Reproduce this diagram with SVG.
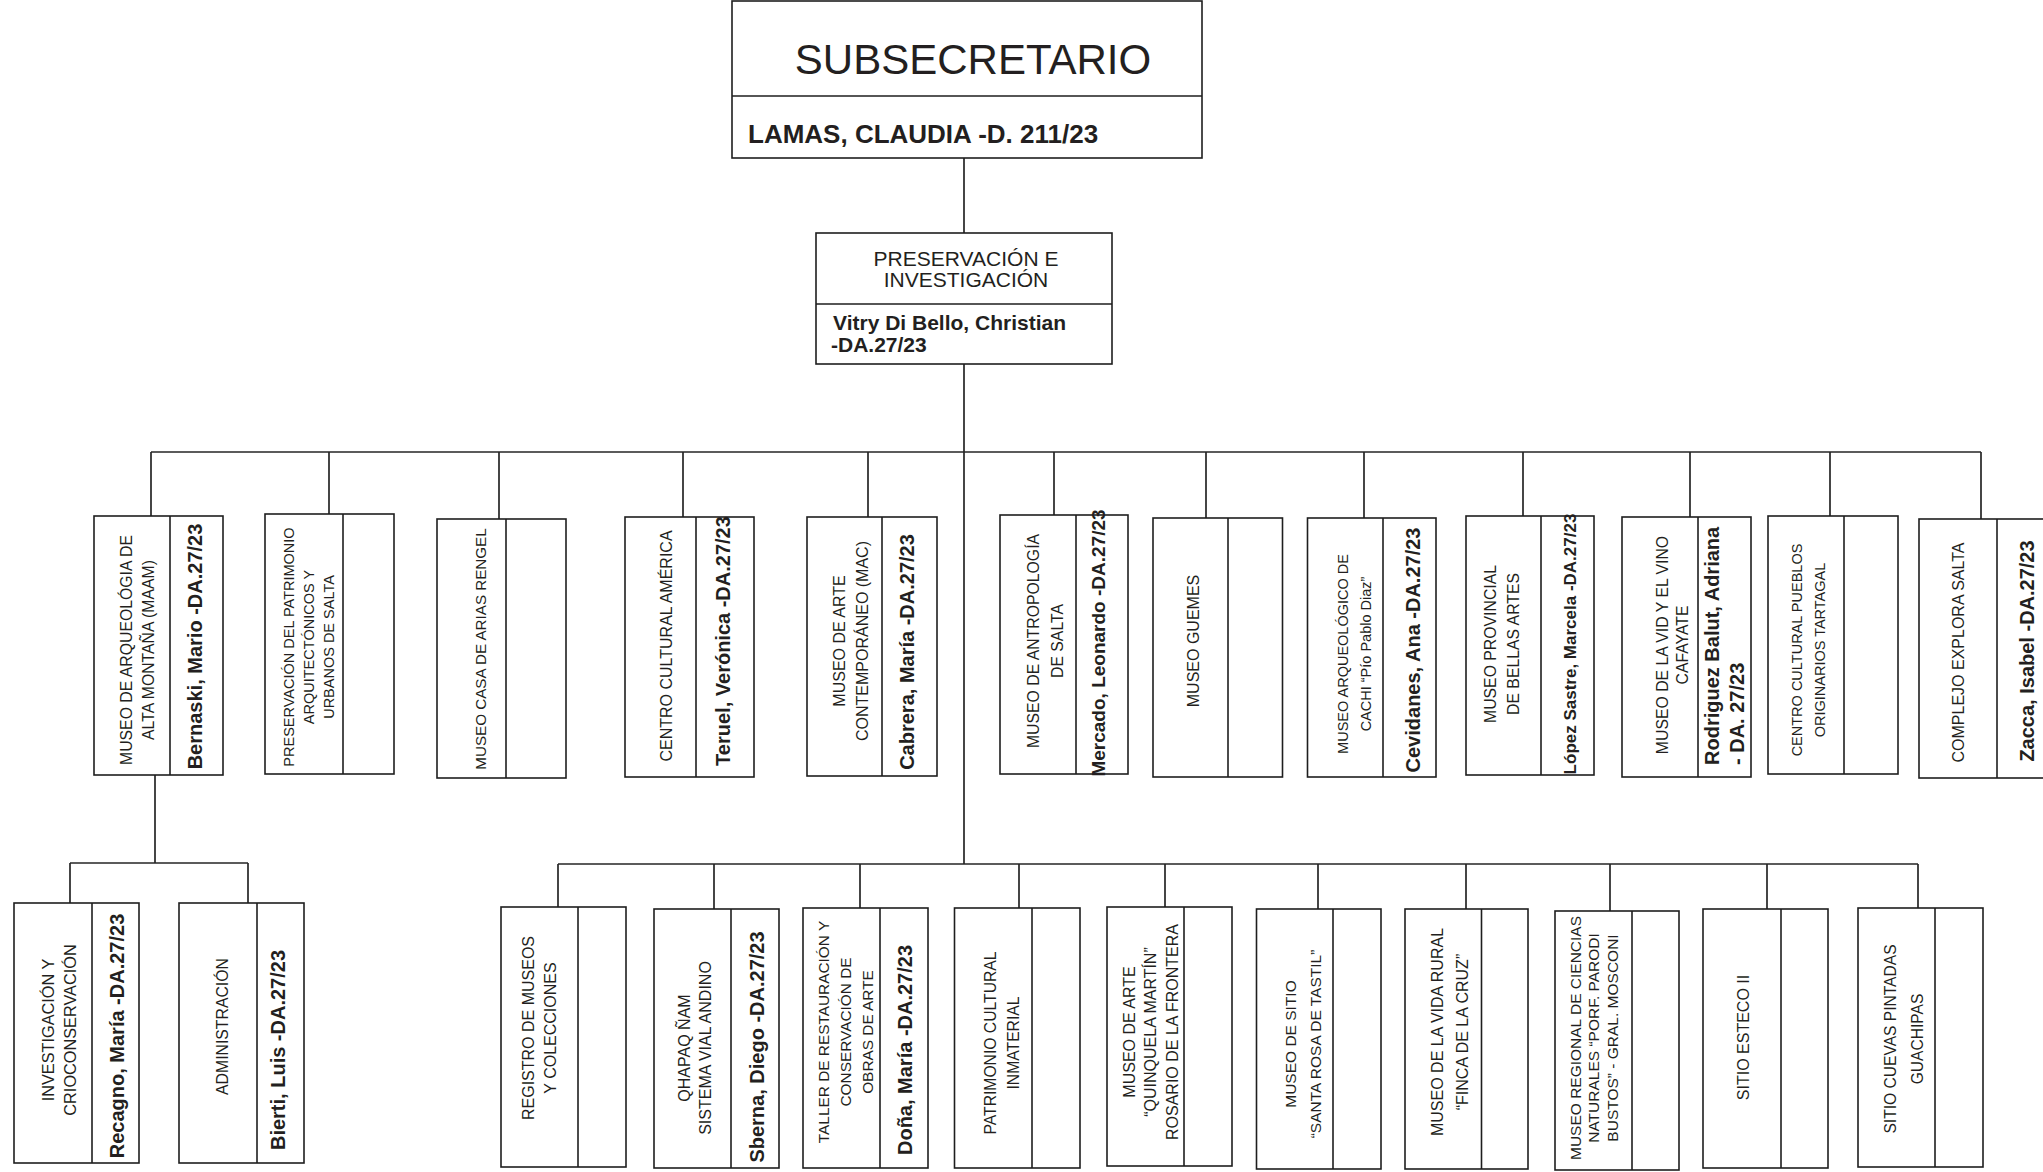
<svg xmlns="http://www.w3.org/2000/svg" width="2043" height="1172" viewBox="0 0 2043 1172">
<style>
.box{fill:#fff;stroke:#1e1e1e;stroke-width:1.6}
.dv{stroke:#1e1e1e;stroke-width:1.6}
.cn{stroke:#262626;stroke-width:1.7;fill:none}
text{font-family:"Liberation Sans",Arial,Helvetica,sans-serif;fill:#231f20}
.m{text-anchor:middle}
.b{font-weight:bold}
</style>
<rect width="2043" height="1172" fill="#fff"/>
<g id="connectors">
<path class="cn" d="M964 158V233M964 364V864M151 452H1981"/>
<path class="cn" d="M151 452V516M329 452V514M499 452V519M683 452V517M868 452V517M1054 452V515M1206 452V518M1364 452V518M1523 452V516M1690 452V517M1830 452V516M1981 452V519"/>
<path class="cn" d="M155 775V863M70 863H248M70 863V903M248 863V903"/>
<path class="cn" d="M558 864H1918M558 864V907M714 864V909M860 864V908M1019 864V908M1165 864V907M1318 864V909M1466 864V909M1610 864V911M1767 864V909M1918 864V908"/>
</g>
<g id="subsecretario">
<rect class="box" x="732" y="1" width="470" height="157"/>
<line class="dv" x1="732" y1="96" x2="1202" y2="96"/>
<text class="m" x="973" y="74" font-size="42">SUBSECRETARIO</text>
<text class="b" x="748" y="143" font-size="26">LAMAS, CLAUDIA -D. 211/23</text>
</g>
<g id="preservacion">
<rect class="box" x="816" y="233" width="296" height="131"/>
<line class="dv" x1="816" y1="304" x2="1112" y2="304"/>
<text class="m" font-size="21"><tspan x="966" y="266">PRESERVACIÓN E</tspan><tspan x="966" y="287">INVESTIGACIÓN</tspan></text>
<text class="b" font-size="21"><tspan x="833" y="330">Vitry Di Bello, Christian</tspan><tspan x="831" y="352">-DA.27/23</tspan></text>
</g>
<g id="maam">
<rect class="box" x="94" y="516" width="129" height="259"/>
<line class="dv" x1="170" y1="516" x2="170" y2="775"/>
<text class="m" font-size="15.8" transform="translate(131.7 650) rotate(-90)"><tspan x="0" y="0">MUSEO DE ARQUEOLÓGIA DE</tspan><tspan x="0" dy="22">ALTA MONTAÑA (MAAM)</tspan></text>
<text class="m b" font-size="20" transform="translate(202 646.5) rotate(-90)">Bernaski,  Mario -DA.27/23</text>
</g>
<g id="patrimonio-arq">
<rect class="box" x="265" y="514" width="129" height="260"/>
<line class="dv" x1="343" y1="514" x2="343" y2="774"/>
<text class="m" font-size="14.5" transform="translate(294.2 647) rotate(-90)"><tspan x="0" y="0">PRESERVACIÓN DEL PATRIMONIO</tspan><tspan x="0" dy="20">ARQUITECTÓNICOS Y</tspan><tspan x="0" dy="20">URBANOS DE  SALTA</tspan></text>
</g>
<g id="arias-rengel">
<rect class="box" x="437" y="519" width="129" height="259"/>
<line class="dv" x1="506" y1="519" x2="506" y2="778"/>
<text class="m" font-size="15.2" transform="translate(485.5 649) rotate(-90)">MUSEO CASA DE ARIAS RENGEL</text>
</g>
<g id="centro-america">
<rect class="box" x="625" y="517" width="129" height="260"/>
<line class="dv" x1="696" y1="517" x2="696" y2="777"/>
<text class="m" font-size="16" transform="translate(671.8 646) rotate(-90)">CENTRO CULTURAL AMÉRICA</text>
<text class="m b" font-size="20" transform="translate(730.2 641) rotate(-90)">Teruel, Verónica -DA.27/23</text>
</g>
<g id="mac">
<rect class="box" x="807" y="517" width="130" height="259"/>
<line class="dv" x1="882" y1="517" x2="882" y2="776"/>
<text class="m" font-size="16" transform="translate(844.8 641) rotate(-90)"><tspan x="0" y="0">MUSEO DE ARTE</tspan><tspan x="0" dy="23">CONTEMPORÁNEO (MAC)</tspan></text>
<text class="m b" font-size="20" transform="translate(914.2 652) rotate(-90)">Cabrera, María -DA.27/23</text>
</g>
<g id="antropologia">
<rect class="box" x="1000" y="515" width="128" height="259"/>
<line class="dv" x1="1076" y1="515" x2="1076" y2="774"/>
<text class="m" font-size="15.8" transform="translate(1038.7 641) rotate(-90)"><tspan x="0" y="0">MUSEO DE ANTROPOLOGÍA</tspan><tspan x="0" dy="24">DE SALTA</tspan></text>
<text class="m b" font-size="19" transform="translate(1105 643) rotate(-90)">Mercado, Leonardo -DA.27/23</text>
</g>
<g id="guemes">
<rect class="box" x="1153" y="518" width="129.5" height="259"/>
<line class="dv" x1="1228" y1="518" x2="1228" y2="777"/>
<text class="m" font-size="16" transform="translate(1198.8 641) rotate(-90)">MUSEO GUEMES</text>
</g>
<g id="cachi">
<rect class="box" x="1307.5" y="518" width="128.5" height="259"/>
<line class="dv" x1="1383" y1="518" x2="1383" y2="777"/>
<text class="m" font-size="14.5" transform="translate(1348.2 654) rotate(-90)"><tspan x="0" y="0">MUSEO ARQUEOLÓGICO DE</tspan><tspan x="0" dy="23">CACHI “Pío Pablo Diaz”</tspan></text>
<text class="m b" font-size="20" transform="translate(1420.2 650) rotate(-90)">Cevidanes, Ana -DA.27/23</text>
</g>
<g id="bellas-artes">
<rect class="box" x="1466" y="516" width="128" height="259"/>
<line class="dv" x1="1541" y1="516" x2="1541" y2="775"/>
<text class="m" font-size="15.8" transform="translate(1495.7 644) rotate(-90)"><tspan x="0" y="0">MUSEO PROVINCIAL</tspan><tspan x="0" dy="23">DE BELLAS ARTES</tspan></text>
<text class="m b" font-size="17" transform="translate(1576.1 644) rotate(-90)">López Sastre, Marcela -DA.27/23</text>
</g>
<g id="vid-vino">
<rect class="box" x="1622" y="517" width="129" height="260"/>
<line class="dv" x1="1698" y1="517" x2="1698" y2="777"/>
<text class="m" font-size="15.8" transform="translate(1667.7 645) rotate(-90)"><tspan x="0" y="0">MUSEO DE LA VID Y EL VINO</tspan><tspan x="0" dy="20">CAFAYATE</tspan></text>
<text class="b" font-size="20" transform="translate(1719.2 765) rotate(-90)"><tspan x="0" y="0">Rodriguez Balut, Adriana</tspan><tspan x="0" dy="25">- DA. 27/23</tspan></text>
</g>
<g id="pueblos-originarios">
<rect class="box" x="1768" y="516" width="130" height="258"/>
<line class="dv" x1="1844" y1="516" x2="1844" y2="774"/>
<text class="m" font-size="14.5" transform="translate(1802.2 650) rotate(-90)"><tspan x="0" y="0">CENTRO CULTURAL PUEBLOS</tspan><tspan x="0" dy="23">ORIGINARIOS TARTAGAL</tspan></text>
</g>
<g id="explora">
<rect class="box" x="1919" y="519" width="151" height="259"/>
<line class="dv" x1="1997" y1="519" x2="1997" y2="778"/>
<text class="m" font-size="16" transform="translate(1963.8 652.5) rotate(-90)">COMPLEJO EXPLORA SALTA</text>
<text class="m b" font-size="20" transform="translate(2034.2 651) rotate(-90)">Zacca, Isabel -DA.27/23</text>
</g>
<g id="crioconservacion">
<rect class="box" x="14" y="903" width="125" height="260"/>
<line class="dv" x1="92" y1="903" x2="92" y2="1163"/>
<text class="m" font-size="16.3" transform="translate(53.9 1030) rotate(-90)"><tspan x="0" y="0">INVESTIGACIÓN Y</tspan><tspan x="0" dy="22">CRIOCONSERVACIÓN</tspan></text>
<text class="m b" font-size="20" transform="translate(124 1036) rotate(-90)">Recagno, María -DA.27/23</text>
</g>
<g id="administracion">
<rect class="box" x="179" y="903" width="125" height="260"/>
<line class="dv" x1="257" y1="903" x2="257" y2="1163"/>
<text class="m" font-size="15.8" transform="translate(227.7 1026.5) rotate(-90)">ADMINISTRACIÓN</text>
<text class="m b" font-size="20" transform="translate(285.2 1050) rotate(-90)">Bierti, Luis -DA.27/23</text>
</g>
<g id="registro">
<rect class="box" x="501" y="907" width="125" height="260"/>
<line class="dv" x1="578" y1="907" x2="578" y2="1167"/>
<text class="m" font-size="16" transform="translate(533.8 1028) rotate(-90)"><tspan x="0" y="0">REGISTRO DE MUSEOS</tspan><tspan x="0" dy="22">Y COLECCIONES</tspan></text>
</g>
<g id="qhapaq-nam">
<rect class="box" x="654" y="909" width="125" height="259"/>
<line class="dv" x1="731" y1="909" x2="731" y2="1168"/>
<text class="m" font-size="16" transform="translate(689.8 1048) rotate(-90)"><tspan x="0" y="0">QHAPAQ ÑAM</tspan><tspan x="0" dy="21">SISTEMA VIAL ANDINO</tspan></text>
<text class="m b" font-size="20" transform="translate(764.2 1047) rotate(-90)">Sberna, Diego -DA.27/23</text>
</g>
<g id="taller">
<rect class="box" x="803" y="908" width="125" height="260"/>
<line class="dv" x1="880" y1="908" x2="880" y2="1168"/>
<text class="m" font-size="15.4" transform="translate(828.5 1032) rotate(-90)"><tspan x="0" y="0">TALLER DE RESTAURACIÓN Y</tspan><tspan x="0" dy="22">CONSERVACIÓN DE</tspan><tspan x="0" dy="22">OBRAS DE ARTE</tspan></text>
<text class="m b" font-size="20" transform="translate(912.2 1050) rotate(-90)">Doña, María -DA.27/23</text>
</g>
<g id="patrimonio-inmaterial">
<rect class="box" x="954.5" y="908" width="125.5" height="260"/>
<line class="dv" x1="1032" y1="908" x2="1032" y2="1168"/>
<text class="m" font-size="15.7" transform="translate(995.7 1043) rotate(-90)"><tspan x="0" y="0">PATRIMONIO CULTURAL</tspan><tspan x="0" dy="23">INMATERIAL</tspan></text>
</g>
<g id="quinquela">
<rect class="box" x="1107" y="907" width="125" height="259"/>
<line class="dv" x1="1184" y1="907" x2="1184" y2="1166"/>
<text class="m" font-size="16" transform="translate(1134.8 1032) rotate(-90)"><tspan x="0" y="0">MUSEO DE ARTE</tspan><tspan x="0" dy="21.5">“QUINQUELA MARTÍN”</tspan><tspan x="0" dy="21.5">ROSARIO DE LA FRONTERA</tspan></text>
</g>
<g id="tastil">
<rect class="box" x="1256.5" y="909" width="124.5" height="260"/>
<line class="dv" x1="1333" y1="909" x2="1333" y2="1169"/>
<text class="m" font-size="15.5" transform="translate(1295.6 1044) rotate(-90)"><tspan x="0" y="0">MUSEO DE SITIO</tspan><tspan x="0" dy="25">“SANTA ROSA DE TASTIL”</tspan></text>
</g>
<g id="vida-rural">
<rect class="box" x="1405" y="909" width="123" height="260"/>
<line class="dv" x1="1481.5" y1="909" x2="1481.5" y2="1169"/>
<text class="m" font-size="16" transform="translate(1443.3 1032) rotate(-90)"><tspan x="0" y="0">MUSEO DE LA VIDA RURAL</tspan><tspan x="0" dy="24.5">“FINCA DE LA CRUZ”</tspan></text>
</g>
<g id="ciencias-naturales">
<rect class="box" x="1555" y="911" width="124" height="259"/>
<line class="dv" x1="1632" y1="911" x2="1632" y2="1170"/>
<text class="m" font-size="15.5" transform="translate(1580.6 1038) rotate(-90)"><tspan x="0" y="0">MUSEO REGIONAL DE CIENCIAS</tspan><tspan x="0" dy="18.5">NATURALES “PORF. PARODI</tspan><tspan x="0" dy="18.5">BUSTOS” - GRAL. MOSCONI</tspan></text>
</g>
<g id="esteco">
<rect class="box" x="1703" y="909" width="125" height="259"/>
<line class="dv" x1="1781" y1="909" x2="1781" y2="1168"/>
<text class="m" font-size="16" transform="translate(1748.8 1037.5) rotate(-90)">SITIO ESTECO II</text>
</g>
<g id="cuevas-pintadas">
<rect class="box" x="1858" y="908" width="125" height="259"/>
<line class="dv" x1="1935" y1="908" x2="1935" y2="1167"/>
<text class="m" font-size="15.6" transform="translate(1895.6 1039) rotate(-90)"><tspan x="0" y="0">SITIO CUEVAS PINTADAS</tspan><tspan x="0" dy="27">GUACHIPAS</tspan></text>
</g>
</svg>
